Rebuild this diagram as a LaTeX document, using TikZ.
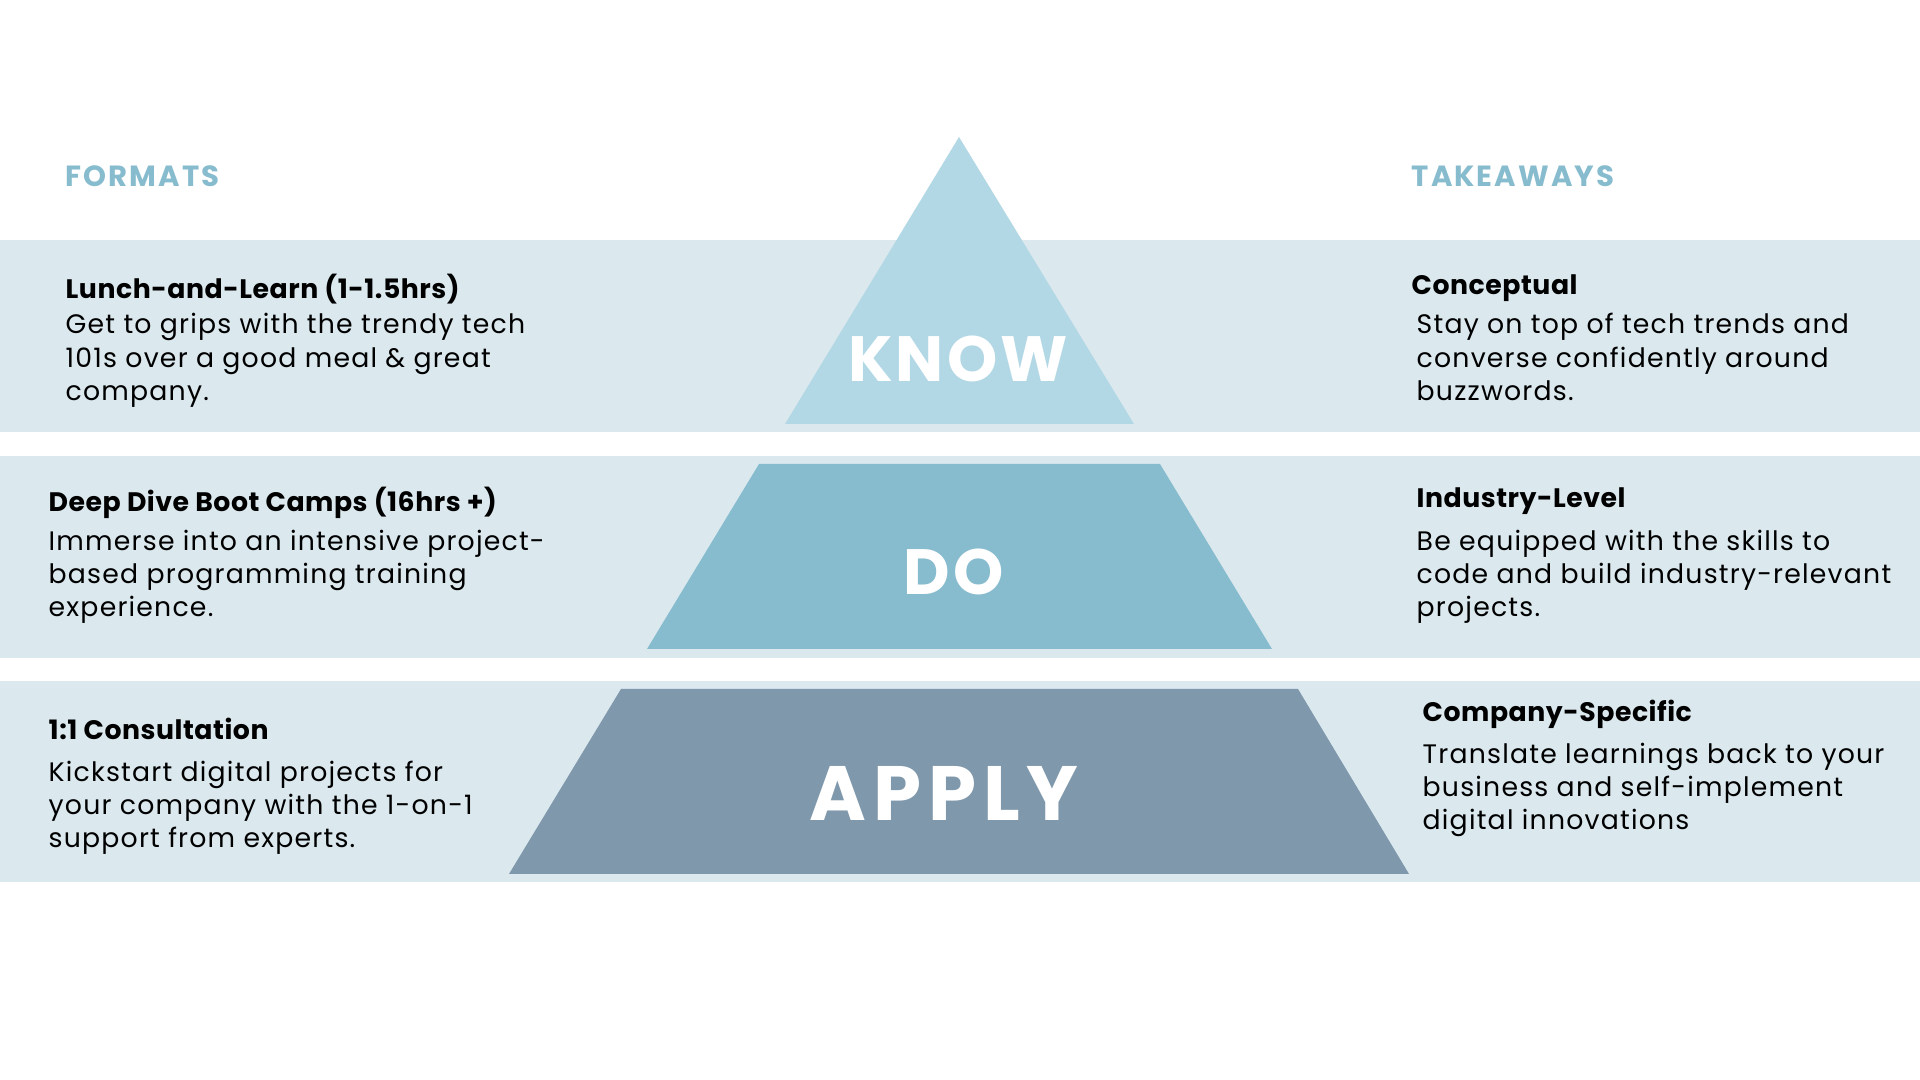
\documentclass[tikz,border=0pt]{standalone}
\usepackage{fontspec}
\setmainfont{Poppins}
\usepackage{tikz}

\definecolor{bandblue}{HTML}{DBE9EF}
\definecolor{knowblue}{HTML}{B3D8E5}
\definecolor{doblue}{HTML}{87BCCE}
\definecolor{applyblue}{HTML}{7F98AB}

\begin{document}
\begin{tikzpicture}[x=0.01cm,y=-0.01cm,
  every node/.style={inner sep=0pt,anchor=base west},
  title/.style={font=\fontsize{8.3}{9}\selectfont\bfseries\addfontfeatures{LetterSpace=7},text=doblue},
  head/.style={font=\fontsize{7.6}{9}\selectfont\bfseries\addfontfeatures{LetterSpace=2},text=black},
  body/.style={font=\fontsize{7.6}{9}\selectfont\addfontfeatures{LetterSpace=4.5},text=black},
  level/.style={anchor=base,font=\fontsize{18.2}{20}\selectfont\bfseries\addfontfeatures{LetterSpace=5},text=white}]
\useasboundingbox (0,0) rectangle (1920,1080);
\fill [white] (0,0) rectangle (1920,1080);
% bands
\fill [bandblue] (0,240) rectangle (1920,432);
\fill [bandblue] (0,456) rectangle (1920,658);
\fill [bandblue] (0,681) rectangle (1920,882);
% pyramid
\fill [knowblue] (959,137) -- (1134,424) -- (785,424) -- cycle;
\fill [doblue] (759,464) -- (1160,464) -- (1272,649) -- (647,649) -- cycle;
\fill [applyblue] (621,689) -- (1298,689) -- (1409,874) -- (509,874) -- cycle;
\node [level] (know) at (958,382) {KNOW};
\node [level] (do) at (954,595) {DO};
\node [level,font=\fontsize{21.9}{24}\selectfont\bfseries\addfontfeatures{LetterSpace=9}] (apply) at (944,821) {APPLY};
% column titles
\node [title] (formats) at (65,187) {FORMATS};
\node [title] (takeaways) at (1411,187) {TAKEAWAYS};
% formats
\node [head] (fmt1) at (65,299) {Lunch-and-Learn (1-1.5hrs)};
\node [body] (fmt1a) at (65,334) {Get to grips with the trendy tech};
\node [body] (fmt1b) at (65,368) {101s over a good meal \& great};
\node [body] (fmt1c) at (65,401) {company.};
\node [head] (fmt2) at (48,512) {Deep Dive Boot Camps (16hrs +)};
\node [body] (fmt2a) at (48,551) {Immerse into an intensive project-};
\node [body] (fmt2b) at (48,584) {based programming training};
\node [body] (fmt2c) at (48,617) {experience.};
\node [head] (fmt3) at (48,740) {1:1 Consultation};
\node [body] (fmt3a) at (48,782) {Kickstart digital projects for};
\node [body] (fmt3b) at (48,815) {your company with the 1-on-1};
\node [body] (fmt3c) at (48,848) {support from experts.};
% takeaways
\node [head] (tk1) at (1411,295) {Conceptual};
\node [body] (tk1a) at (1416,334) {Stay on top of tech trends and};
\node [body] (tk1b) at (1416,368) {converse confidently around};
\node [body] (tk1c) at (1416,401) {buzzwords.};
\node [head] (tk2) at (1416,508) {Industry-Level};
\node [body] (tk2a) at (1416,551) {Be equipped with the skills to};
\node [body] (tk2b) at (1416,584) {code and build industry-relevant};
\node [body] (tk2c) at (1416,617) {projects.};
\node [head] (tk3) at (1422,722) {Company-Specific};
\node [body] (tk3a) at (1422,764) {Translate learnings back to your};
\node [body] (tk3b) at (1422,797) {business and self-implement};
\node [body] (tk3c) at (1422,830) {digital innovations};
\end{tikzpicture}
\end{document}
